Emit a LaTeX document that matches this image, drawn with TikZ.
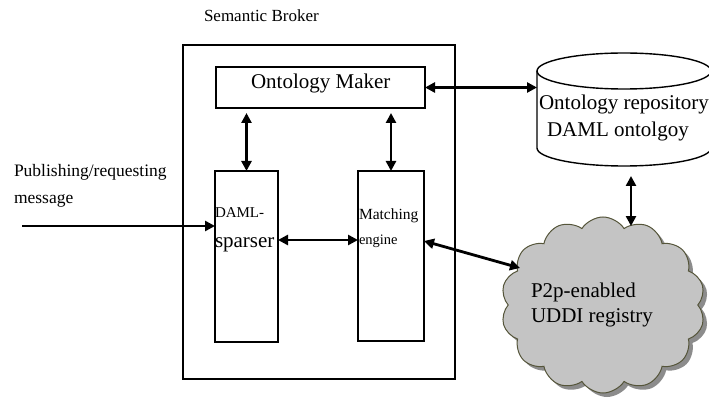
\documentclass[tikz,border=0pt]{standalone}
\usepackage{fontspec}
\setmainfont{Liberation Serif}
\usetikzlibrary{arrows.meta,shapes.symbols,shadows,calc}
\definecolor{cloudfill}{HTML}{C4C4C4}
\definecolor{cloudline}{HTML}{55553A}
\definecolor{shadowgray}{HTML}{8C8C8C}

\begin{document}
\begin{tikzpicture}[x=1pt,y=-1pt,
  box/.style={draw,line width=1.4pt,inner sep=0pt,outer sep=0pt,anchor=north west},
  biarrow/.style={line width=2.8pt,{Triangle[length=10pt,width=10pt]}-{Triangle[length=10pt,width=10pt]}},
  onearrow/.style={line width=2.8pt,-{Triangle[length=10pt,width=10pt]}},
  lbl/.style={anchor=base west,inner sep=0pt,outer sep=0pt},
  fsize/.style={font=\fontsize{#1}{#1}\selectfont}]
\useasboundingbox (0,0) rectangle (709,398);

% broker and its components
\node[box,minimum width=272pt,minimum height=334pt] (broker) at (183,45) {};
\node[box,minimum width=209pt,minimum height=41pt] (om) at (216,67) {};
\node[box,minimum width=63pt,minimum height=171pt] (dp) at (215,171) {};
\node[box,minimum width=66pt,minimum height=170pt] (me) at (358,171) {};

\node[lbl,fsize=17] (title) at (204,22) {Semantic Broker};
\node[lbl,fsize=21] (omtext) at (251,89) {Ontology Maker};
\node[lbl,fsize=15] (dp1) at (215,218) {DAML-};
\node[lbl,fsize=21] (dp2) at (215,247) {sparser};
\node[lbl,fsize=15.5] (me1) at (359,219) {Matching};
\node[lbl,fsize=14.5] (me2) at (359,244) {engine};

% incoming message
\node[lbl,fsize=17.5] (pub1) at (14,177) {Publishing/requesting};
\node[lbl,fsize=17.5] (pub2) at (14,204) {message};
\coordinate (src) at (22,226);

% ontology repository (cylinder)
\draw[line width=1.4pt,fill=white] (537,71) -- (537,148)
  arc[start angle=180,end angle=360,x radius=87pt,y radius=18pt] -- (711,71);
\draw[line width=1.4pt] (624,71) ellipse[x radius=87pt,y radius=18pt];
\node[lbl,fsize=21] (repo1) at (539,110) {Ontology repository};
\node[lbl,fsize=21] (repo2) at (547,137) {DAML ontolgoy};
\coordinate (repoW) at (537,87);
\coordinate (repoS) at (631,176);

% UDDI registry cloud
\node[cloud,cloud puffs=14,cloud puff arc=115,aspect=1.15,
  minimum width=204pt,minimum height=176pt,draw=cloudline,fill=cloudfill,
  line width=1pt,
  drop shadow={shadow xshift=4pt,shadow yshift=-4pt,fill=shadowgray,opacity=1}]
  (uddi) at (603,305) {};
\node[lbl,fsize=21] (uddi1) at (531,297) {P2p-enabled};
\node[lbl,fsize=21] (uddi2) at (531,322) {UDDI registry};
\coordinate (uddiN) at (631,226);
\coordinate (uddiW) at (520,268);

% connectors
\coordinate (hrow) at (300,240);
\coordinate (crow) at (300,241);
\draw[onearrow] (src) -- (src -| dp.west);
\draw[biarrow] ($(dp.north |- om.south)+(0,5)$) -- (dp.north);
\draw[biarrow] ($(me.north |- om.south)+(0,5)$) -- (me.north);
\draw[biarrow] (dp.east |- hrow) -- (me.west |- hrow);
\draw[biarrow] (om.east) -- (om.east -| repoW);
\draw[biarrow] (repoS) -- (uddiN);
\draw[biarrow] (me.east |- crow) -- (uddiW);
\end{tikzpicture}
\end{document}
